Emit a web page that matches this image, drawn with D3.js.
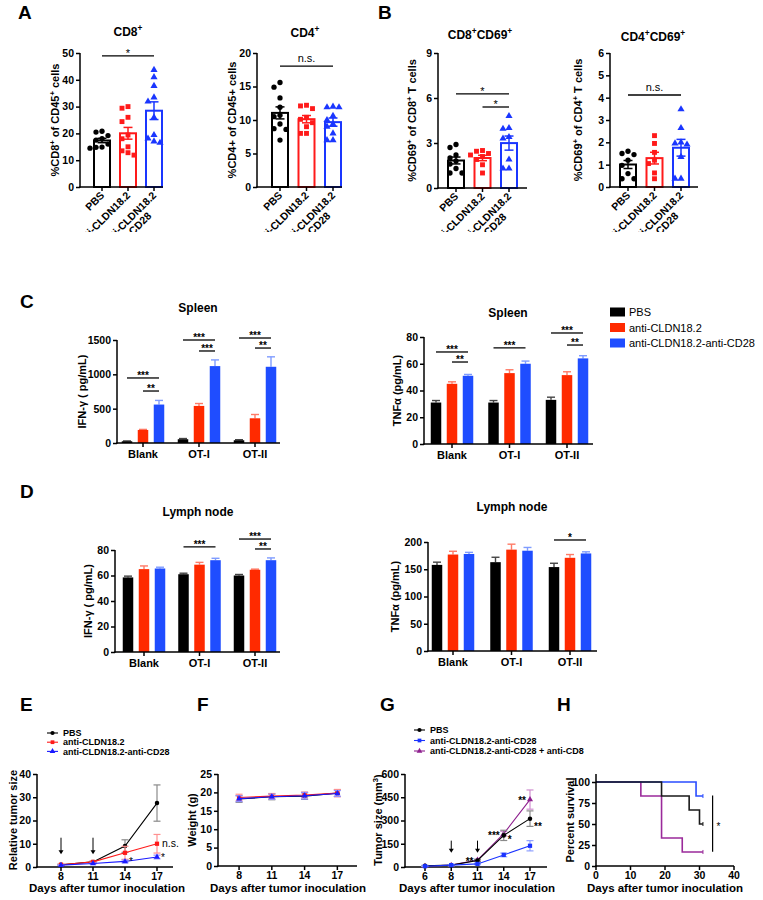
<!DOCTYPE html>
<html>
<head>
<meta charset="utf-8">
<script src="https://cdn.jsdelivr.net/npm/d3@7/dist/d3.min.js"></script>
<style>
  html,body{margin:0;padding:0;background:#fff;}
  svg{display:block;}
</style>
</head>
<body>
<svg id="fig" width="763" height="900"></svg>
<script>
/* ================= DATA ================= */
const groups = ["PBS", "anti-CLDN18.2", "anti-CLDN18.2-anti-CD28"];
const groupTickLabels = [["PBS"], ["anti-CLDN18.2"], ["anti-CLDN18.2", "-anti-CD28"]];

// Panel A / B individual animals (PBS, anti-CLDN18.2, anti-CLDN18.2-anti-CD28)
const cd8OfCd45 = [
  [20.5, 20.8, 19.2, 18.0, 17.5, 16.0, 14.8, 14.5, 14.9],
  [30.0, 29.4, 26.0, 24.4, 19.4, 18.0, 15.0, 12.8, 11.9, 13.5],
  [43.7, 41.0, 37.7, 33.4, 31.9, 26.0, 19.4, 18.1, 16.5, 17.0]
];
const cd4OfCd45 = [
  [15.6, 14.9, 13.3, 11.9, 10.7, 10.5, 9.4, 8.7, 7.0, 8.6],
  [12.2, 12.1, 11.7, 10.4, 10.1, 9.6, 9.0, 8.0, 8.0],
  [12.0, 11.9, 11.9, 10.6, 10.0, 9.4, 9.0, 8.0, 7.0, 7.0]
];
const cd69OfCd8 = [
  [2.9, 2.7, 2.2, 2.0, 1.8, 1.6, 1.3, 1.0, 1.0],
  [2.5, 2.45, 2.3, 2.2, 2.1, 1.9, 1.55, 1.0],
  [4.8, 4.0, 3.95, 3.4, 3.3, 1.9, 1.3, 1.3]
];
const cd69OfCd4 = [
  [1.6, 1.5, 1.45, 1.2, 0.97, 0.6, 0.37, 0.37],
  [2.3, 1.95, 1.55, 1.2, 1.05, 0.63, 0.37],
  [3.48, 2.64, 2.0, 1.95, 1.9, 1.35, 0.37, 0.37]
];
const sigCd8 = [{a: 0, b: 2, label: "*", y: 48.9}];
const sigCd4 = [{a: 0, b: 2, label: "n.s.", y: 18.05}];
const sigCd8Cd69 = [{a: 0, b: 2, label: "*", y: 6.27}, {a: 1, b: 2, label: "*", y: 5.4}];
const sigCd4Cd69 = [{a: 0, b: 2, label: "n.s.", y: 4.12}];

// Panel C / D : [category][PBS, anti-CLDN18.2, anti-CLDN18.2-anti-CD28]
const stimCats = ["Blank", "OT-I", "OT-II"];
const spleenIfnMean = [[25, 190, 560], [55, 540, 1120], [40, 360, 1110]];
const spleenIfnSem  = [[5, 8, 60], [10, 35, 90], [8, 55, 145]];
const spleenTnfMean = [[31, 45, 51], [31, 53, 60], [33, 51.5, 64]];
const spleenTnfSem  = [[1.5, 1.5, 1], [1.5, 2.5, 2], [2, 2.5, 2]];
const lnIfnMean = [[58.5, 65, 65.5], [61, 68.5, 72], [60, 64.5, 72]];
const lnIfnSem  = [[1, 2.5, 1], [0.8, 1.8, 1.5], [0.8, 0.5, 1.8]];
const lnTnfMean = [[158, 177, 178], [163, 186, 184], [154, 171, 179]];
const lnTnfSem  = [[5, 6, 3], [9, 10, 6], [7, 6, 3]];
const spleenIfnSig = [
  {cat: "Blank", a: 0, b: 2, label: "***", y: 947}, {cat: "Blank", a: 1, b: 2, label: "**", y: 757},
  {cat: "OT-I", a: 0, b: 2, label: "***", y: 1500}, {cat: "OT-I", a: 1, b: 2, label: "***", y: 1340},
  {cat: "OT-II", a: 0, b: 2, label: "***", y: 1529}, {cat: "OT-II", a: 1, b: 2, label: "**", y: 1383}
];
const spleenTnfSig = [
  {cat: "Blank", a: 0, b: 2, label: "***", y: 68.8}, {cat: "Blank", a: 1, b: 2, label: "**", y: 61.3},
  {cat: "OT-I", a: 0, b: 2, label: "***", y: 71.8},
  {cat: "OT-II", a: 0, b: 2, label: "***", y: 83}, {cat: "OT-II", a: 1, b: 2, label: "**", y: 74}
];
const lnIfnSig = [
  {cat: "OT-I", a: 0, b: 2, label: "***", y: 82.4},
  {cat: "OT-II", a: 0, b: 2, label: "***", y: 88.6}, {cat: "OT-II", a: 1, b: 2, label: "**", y: 80.8}
];
const lnTnfSig = [{cat: "OT-II", a: 0, b: 2, label: "*", y: 203.7}];

// Panel E : relative tumor size
const daysE = [8, 11, 14, 17];
const relPBS = [1.0, 2.2, 9.0, 27.5];   const relPBSsem = [0.2, 0.3, 2.7, 7.8];
const relCLDN = [1.0, 2.2, 6.1, 10.0];  const relCLDNsem = [0.2, 0.3, 2.8, 4.0];
const relCD28 = [0.8, 1.5, 2.4, 4.3];   const relCD28sem = [0.1, 0.2, 0.6, 0.8];
const treatDaysE = [8, 11];
const annotE = [{x: 17, v: 10.0, label: "n.s."}, {x: 14, v: 2.4, label: "*"}, {x: 17, v: 4.3, label: "*"}];

// Panel F : weight
const daysF = [8, 11, 14, 17];
const wPBS = [18.2, 18.8, 19.0, 19.8];  const wPBSsem = [0.9, 0.8, 0.9, 0.9];
const wCLDN = [18.6, 19.0, 19.3, 19.8]; const wCLDNsem = [0.9, 0.7, 0.8, 1.0];
const wCD28 = [18.3, 18.8, 19.1, 19.7]; const wCD28sem = [0.8, 0.7, 0.9, 0.8];

// Panel G : tumor volume
const daysG = ["6", "8", "11", "14", "17"];
const volPBS = [8, 12, 42, 204, 312];   const volPBSsem = [3, 3, 6, 33, 50];
const volCD28 = [5, 12, 20, 78, 137];   const volCD28sem = [2, 3, 5, 12, 33];
const volCD8 = [5, 12, 45, 215, 435];   const volCD8sem = [2, 3, 6, 15, 62];
const treatDaysG = ["8", "11"];
const annotG = [
  {x: "11", v: 45, label: "**", side: -1}, {x: "14", v: 215, label: "***", side: -1},
  {x: "14", v: 185, label: "*", side: 1}, {x: "17", v: 440, label: "**", side: -1},
  {x: "17", v: 270, label: "**", side: 1}
];
const legendG = ["PBS", "anti-CLDN18.2-anti-CD28", "anti-CLDN18.2-anti-CD28 + anti-CD8"];

// Panel H : survival (day, percent)
const survPBS = [[0, 100], [19, 83.3], [27, 66.7], [30, 50], [31, 50]];
const survCD28 = [[0, 100], [29, 83.3], [31, 83.3]];
const survCD8 = [[0, 100], [13, 83.3], [19, 33.3], [25, 16.7], [31, 16.7]];
const sigH = {day: 33.8, from: 84, to: 17, label: "*"};

/* ================= DRAWING ================= */
const FONT = "'Liberation Sans', Arial, Helvetica, sans-serif";
const svg = d3.select("#fig");
svg.append("rect").attr("width", 763).attr("height", 900).attr("fill", "#fff");

function txt(parent, x, y, str, opt = {}) {
  const size = opt.size || 11;
  const t = parent.append("text")
    .attr("x", x).attr("y", y)
    .attr("font-family", FONT).attr("font-size", size)
    .attr("font-weight", opt.weight || "bold")
    .attr("text-anchor", opt.anchor || "middle")
    .attr("fill", opt.fill || "#000");
  if (opt.rotate) t.attr("transform", `rotate(${opt.rotate},${x},${y})`);
  let sup = false;
  str.split(/(\^\{[^}]*\})/).filter(p => p.length).forEach(p => {
    const m = p.match(/^\^\{([^}]*)\}$/);
    if (m) { t.append("tspan").attr("dy", -size * 0.38).attr("font-size", size * 0.7).text(m[1]); sup = true; }
    else { const s = t.append("tspan").text(p); if (sup) s.attr("dy", size * 0.38); sup = false; }
  });
  return t;
}

function line(g, x1, y1, x2, y2, color = "#000", w = 1.5) {
  return g.append("line").attr("x1", x1).attr("y1", y1).attr("x2", x2).attr("y2", y2)
    .attr("stroke", color).attr("stroke-width", w);
}

function yAxis(g, y, axisX, ticks, yTopLine, fmt) {
  const ax = g.append("g").attr("transform", `translate(${axisX},0)`)
    .call(d3.axisLeft(y).tickValues(ticks).tickSize(4).tickSizeOuter(0).tickPadding(2).tickFormat(fmt || d3.format("d")));
  ax.select(".domain").remove();
  ax.attr("font-family", FONT);
  ax.selectAll(".tick line").attr("stroke", "#000").attr("stroke-width", 1.5);
  ax.selectAll(".tick text").attr("fill", "#000").attr("font-weight", "bold").attr("font-size", 10.5).attr("font-family", FONT);
  const r = y.range();
  line(g, axisX, r[0] + 0.75, axisX, yTopLine !== undefined ? yTopLine : r[1]);
}

function xAxisLine(g, x0, x1, yb) { line(g, x0 - 0.75, yb, x1, yb); }

// Panel letters
[["A", 18, 19], ["B", 378, 19], ["C", 20, 308], ["D", 20, 498], ["E", 20, 711], ["F", 197, 711], ["G", 380, 711], ["H", 557, 711]]
  .forEach(([l, x, y]) => txt(svg, x, y, l, {size: 19, anchor: "start"}));

/* ---------- A / B : scatter bar ---------- */
const grpColors = ["#000000", "#ff1a1a", "#1a36ff"];
const symTypes = [d3.symbolCircle, d3.symbolSquare, d3.symbolTriangle];
const symSizes = [22, 24, 22];

svg.append("clipPath").attr("id", "topclip").append("rect").attr("x", 0).attr("y", 0).attr("width", 763).attr("height", 232);

const scatterPanels = [
  {data: cd8OfCd45, sig: sigCd8, max: 50, ticks: [0, 10, 20, 30, 40, 50], title: "CD8^{+}", ylabel: "%CD8^{+} of CD45^{+} cells",
   axisX: 80, axisEnd: 163, yTop: 53, yBot: 187, barRange: [102, 154], titleX: 128, titleY: 36, ylabelX: 59},
  {data: cd4OfCd45, sig: sigCd4, max: 20, ticks: [0, 5, 10, 15, 20], title: "CD4^{+}", ylabel: "%CD4+ of CD45+ cells",
   axisX: 257, axisEnd: 342, yTop: 53, yBot: 187, barRange: [280, 333], titleX: 305, titleY: 37, ylabelX: 236},
  {data: cd69OfCd8, sig: sigCd8Cd69, max: 9, ticks: [0, 3, 6, 9], title: "CD8^{+}CD69^{+}", ylabel: "%CD69^{+} of CD8^{+} T cells",
   axisX: 438, axisEnd: 527, yTop: 53, yBot: 188, barRange: [456, 509], titleX: 480, titleY: 39, ylabelX: 416},
  {data: cd69OfCd4, sig: sigCd4Cd69, max: 6, ticks: [0, 1, 2, 3, 4, 5, 6], title: "CD4^{+}CD69^{+}", ylabel: "%CD69^{+} of CD4^{+} T cells",
   axisX: 610, axisEnd: 698, yTop: 53, yBot: 187, barRange: [628, 681], titleX: 653, titleY: 41, ylabelX: 582}
];

scatterPanels.forEach(o => {
  const g = svg.append("g");
  const y = d3.scaleLinear().domain([0, o.max]).range([o.yBot, o.yTop]);
  const x = d3.scalePoint().domain(groups).range(o.barRange);
  const bw = 16;
  o.data.forEach((pts, i) => {
    const cx = x(groups[i]);
    const mean = d3.mean(pts);
    const sem = d3.deviation(pts) / Math.sqrt(pts.length);
    g.append("rect").attr("x", cx - bw / 2).attr("y", y(mean)).attr("width", bw).attr("height", y(0) - y(mean))
      .attr("fill", "#fff").attr("stroke", grpColors[i]).attr("stroke-width", 2);
    // beeswarm-style placement of points
    const placed = [];
    const sym = d3.symbol().type(symTypes[i]).size(symSizes[i]);
    pts.slice().sort((a, b) => b - a).forEach(v => {
      const py = y(v);
      let off = 0;
      for (const c of [0, -6, 6, -3, 3, -9, 9, -12, 12]) {
        if (placed.every(p => Math.hypot(p[0] - c, p[1] - py) >= 5.5)) { off = c; break; }
      }
      placed.push([off, py]);
      g.append("path").attr("d", sym).attr("transform", `translate(${cx + off},${py})`).attr("fill", grpColors[i]);
    });
    line(g, cx, y(mean - sem), cx, y(mean + sem), grpColors[i], 1.5);
    line(g, cx - 4.5, y(mean + sem), cx + 4.5, y(mean + sem), grpColors[i], 1.5);
    line(g, cx - 4.5, y(mean - sem), cx + 4.5, y(mean - sem), grpColors[i], 1.5);
  });
  yAxis(g, y, o.axisX, o.ticks);
  xAxisLine(g, o.axisX, o.axisEnd, o.yBot);
  const lg = g.append("g").attr("clip-path", "url(#topclip)");
  groups.forEach((gr, i) => {
    const cx = x(gr);
    line(g, cx, o.yBot, cx, o.yBot + 4);
    const tx = cx + 3, ty = o.yBot + 9;
    const t = lg.append("text").attr("transform", `translate(${tx},${ty}) rotate(-45)`)
      .attr("font-family", FONT).attr("font-size", 10.5).attr("font-weight", "bold").attr("fill", "#000")
      .attr("text-anchor", "end");
    const lines = groupTickLabels[i];
    if (lines.length === 1) {
      t.text(lines[0]);
    } else {
      t.append("tspan").attr("x", 0).attr("dy", 0).text(lines[0]);
      t.append("tspan").attr("x", -18).attr("dy", "1.05em").text(lines[1]);
    }
  });
  txt(g, o.titleX, o.titleY, o.title, {size: 12});
  txt(g, o.ylabelX, (o.yTop + o.yBot) / 2, o.ylabel, {size: 11, rotate: -90});
  o.sig.forEach(s => {
    const x1 = x(groups[s.a]), x2 = x(groups[s.b]), yy = y(s.y);
    line(g, x1, yy, x2, yy, "#000", 1.3);
    if (s.label === "n.s.") txt(g, (x1 + x2) / 2, yy - 4, s.label, {size: 11, weight: "normal"});
    else txt(g, (x1 + x2) / 2, yy + 1, s.label, {size: 11, weight: "normal"});
  });
});

/* ---------- C / D : grouped bars ---------- */
const barColors = ["#000000", "#ff2a00", "#1f4dff"];
const errColors = ["#444444", "#ff7a66", "#7f9cff"];

const groupedPanels = [
  {mean: spleenIfnMean, sem: spleenIfnSem, sig: spleenIfnSig, max: 1500, ticks: [0, 500, 1000, 1500],
   axisX: 117, axisEnd: 280, yTop: 340, yBot: 443, range: [143, 255], title: "Spleen", titleX: 198, titleY: 312,
   ylabel: "IFN-γ ( pg/mL)", ylabelX: 86},
  {mean: spleenTnfMean, sem: spleenTnfSem, sig: spleenTnfSig, max: 80, ticks: [0, 20, 40, 60, 80],
   axisX: 424, axisEnd: 593, yTop: 337, yBot: 444, range: [452, 567], title: "Spleen", titleX: 508, titleY: 317,
   ylabel: "TNFα (pg/mL)", ylabelX: 401},
  {mean: lnIfnMean, sem: lnIfnSem, sig: lnIfnSig, max: 80, ticks: [0, 20, 40, 60, 80],
   axisX: 115, axisEnd: 280, yTop: 550, yBot: 652, range: [144, 255], title: "Lymph node", titleX: 198, titleY: 516,
   ylabel: "IFN-γ ( pg/mL)", ylabelX: 92},
  {mean: lnTnfMean, sem: lnTnfSem, sig: lnTnfSig, max: 200, ticks: [0, 50, 100, 150, 200],
   axisX: 428, axisEnd: 597, yTop: 542, yBot: 651, range: [453, 570], title: "Lymph node", titleX: 512, titleY: 511,
   ylabel: "TNFα (pg/mL)", ylabelX: 399}
];

groupedPanels.forEach(o => {
  const g = svg.append("g");
  const y = d3.scaleLinear().domain([0, o.max]).range([o.yBot, o.yTop]);
  const x = d3.scalePoint().domain(stimCats).range(o.range);
  const sub = d3.scalePoint().domain([0, 1, 2]).range([-16, 16]);
  const bw = 10.5;
  stimCats.forEach((c, ci) => {
    [0, 1, 2].forEach(k => {
      const v = o.mean[ci][k], e = o.sem[ci][k], cx = x(c) + sub(k);
      line(g, cx, y(v), cx, y(v + e), errColors[k], 1.4);
      line(g, cx - 4, y(v + e), cx + 4, y(v + e), errColors[k], 1.4);
      g.append("rect").attr("x", cx - bw / 2).attr("y", y(v)).attr("width", bw).attr("height", y(0) - y(v))
        .attr("fill", barColors[k]);
    });
  });
  yAxis(g, y, o.axisX, o.ticks);
  xAxisLine(g, o.axisX, o.axisEnd, o.yBot);
  stimCats.forEach(c => {
    line(g, x(c), o.yBot, x(c), o.yBot + 4);
    txt(g, x(c), o.yBot + 15, c, {size: 11});
  });
  txt(g, o.titleX, o.titleY, o.title, {size: 12});
  txt(g, o.ylabelX, (o.yTop + o.yBot) / 2, o.ylabel, {size: 11, rotate: -90});
  o.sig.forEach(s => {
    const x1 = x(s.cat) + sub(s.a), x2 = x(s.cat) + sub(s.b), yy = y(s.y);
    line(g, x1, yy, x2, yy, "#000", 1.3);
    txt(g, (x1 + x2) / 2, yy + 1, s.label, {size: 10, weight: "bold"});
  });
});

// legend for C
groups.forEach((gr, i) => {
  const cy = 312 + i * 15.5;
  svg.append("rect").attr("x", 610).attr("y", cy - 4.5).attr("width", 15).attr("height", 9).attr("fill", barColors[i]);
  txt(svg, 629, cy + 4, gr, {size: 11, weight: "normal", anchor: "start"});
});

/* ---------- line-chart helpers ---------- */
function drawSeries(g, x, y, xs, vals, sems, color, errColor, symType, symSize) {
  xs.forEach((d, i) => {
    const cx = x(d);
    line(g, cx, y(vals[i] - sems[i]), cx, y(vals[i] + sems[i]), errColor, 1.2);
    line(g, cx - 3.5, y(vals[i] + sems[i]), cx + 3.5, y(vals[i] + sems[i]), errColor, 1.2);
    line(g, cx - 3.5, y(vals[i] - sems[i]), cx + 3.5, y(vals[i] - sems[i]), errColor, 1.2);
  });
  g.append("path").datum(xs.map((d, i) => [x(d), y(vals[i])]))
    .attr("d", d3.line()).attr("fill", "none").attr("stroke", color).attr("stroke-width", 1.1);
  const sym = d3.symbol().type(symType).size(symSize);
  xs.forEach((d, i) => g.append("path").attr("d", sym).attr("transform", `translate(${x(d)},${y(vals[i])})`).attr("fill", color));
}

function xTicks(g, x, vals, yb, fmt) {
  vals.forEach(v => {
    line(g, x(v), yb, x(v), yb + 4);
    txt(g, x(v), yb + 13, fmt ? fmt(v) : String(v), {size: 10.5});
  });
}

function arrow(g, cx, y1, y2) {
  line(g, cx, y1, cx, y2 - 3, "#000", 1);
  g.append("path").attr("d", `M${cx - 2.5},${y2 - 4}L${cx + 2.5},${y2 - 4}L${cx},${y2}Z`).attr("fill", "#000");
}

function legendRows(g, x0, y0, dy, labels, colors, syms) {
  labels.forEach((lab, i) => {
    const cy = y0 + i * dy;
    line(g, x0, cy, x0 + 11, cy, colors[i], 1.1);
    g.append("path").attr("d", d3.symbol().type(syms[i]).size(14)).attr("transform", `translate(${x0 + 5.5},${cy})`).attr("fill", colors[i]);
    txt(g, x0 + 16, cy + 3.2, lab, {size: 9, anchor: "start"});
  });
}

const xLabel = "Days after tumor inoculation";

/* ---------- E ---------- */
{
  const g = svg.append("g");
  const x = d3.scaleLinear().domain([5.75, 18.5]).range([37, 173]);
  const y = d3.scaleLinear().domain([0, 40]).range([867, 774]);
  yAxis(g, y, 37, [0, 10, 20, 30, 40]);
  xAxisLine(g, 37, 173, 867);
  xTicks(g, x, daysE, 867);
  drawSeries(g, x, y, daysE, relPBS, relPBSsem, "#000", "#8a8a8a", d3.symbolCircle, 16);
  drawSeries(g, x, y, daysE, relCLDN, relCLDNsem, "#ff1a1a", "#ff9090", d3.symbolSquare, 18);
  drawSeries(g, x, y, daysE, relCD28, relCD28sem, "#1a1aff", "#9090ff", d3.symbolTriangle, 16);
  treatDaysE.forEach(d => arrow(g, x(d), y(12.6), y(5.5)));
  annotE.forEach(a => {
    if (a.label === "n.s.") txt(g, x(a.x) + 5, y(a.v) + 3.5, a.label, {size: 10.5, weight: "normal", anchor: "start"});
    else txt(g, x(a.x) + 4, y(a.v) + 4, a.label, {size: 10, weight: "normal", anchor: "start"});
  });
  legendRows(g, 47, 733, 9.2, groups, ["#000", "#ff1a1a", "#1a1aff"], [d3.symbolCircle, d3.symbolSquare, d3.symbolTriangle]);
  txt(g, 17, 820, "Relative tumor size", {size: 11, rotate: -90});
  txt(g, 107, 892, xLabel, {size: 11.5});
}

/* ---------- F ---------- */
{
  const g = svg.append("g");
  const x = d3.scaleLinear().domain([6.07, 18.8]).range([218, 357]);
  const y = d3.scaleLinear().domain([0, 25]).range([866, 774]);
  yAxis(g, y, 218, [0, 5, 10, 15, 20, 25]);
  xAxisLine(g, 218, 357, 866);
  xTicks(g, x, daysF, 866);
  drawSeries(g, x, y, daysF, wPBS, wPBSsem, "#000", "#8a8a8a", d3.symbolCircle, 16);
  drawSeries(g, x, y, daysF, wCLDN, wCLDNsem, "#ff1a1a", "#ff9090", d3.symbolSquare, 18);
  drawSeries(g, x, y, daysF, wCD28, wCD28sem, "#1a1aff", "#9090ff", d3.symbolTriangle, 16);
  txt(g, 196, 820, "Weight (g)", {size: 11, rotate: -90});
  txt(g, 288, 892, xLabel, {size: 11.5});
}

/* ---------- G ---------- */
{
  const g = svg.append("g");
  const x = d3.scalePoint().domain(daysG).range([425, 530]);
  const y = d3.scaleLinear().domain([0, 600]).range([867, 774]);
  yAxis(g, y, 405, [0, 150, 300, 450, 600]);
  xAxisLine(g, 405, 547, 867);
  xTicks(g, x, daysG, 867);
  drawSeries(g, x, y, daysG, volCD8, volCD8sem, "#8e1f8e", "#d08fd0", d3.symbolTriangle, 16);
  drawSeries(g, x, y, daysG, volPBS, volPBSsem, "#000", "#8a8a8a", d3.symbolCircle, 16);
  drawSeries(g, x, y, daysG, volCD28, volCD28sem, "#1a33ff", "#8fa0ff", d3.symbolSquare, 18);
  treatDaysG.forEach(d => arrow(g, x(d), y(170), y(92)));
  annotG.forEach(a => {
    const anchor = a.side < 0 ? "end" : "start";
    txt(g, x(a.x) + a.side * 4, y(a.v) + 5, a.label, {size: 10, weight: "bold", anchor});
  });
  legendRows(g, 414, 730, 10.5, legendG, ["#000", "#1a33ff", "#8e1f8e"], [d3.symbolCircle, d3.symbolSquare, d3.symbolTriangle]);
  txt(g, 382, 820, "Tumor size (mm^{3})", {size: 11, rotate: -90});
  txt(g, 477, 892, xLabel, {size: 11.5});
}

/* ---------- H ---------- */
{
  const g = svg.append("g");
  const x = d3.scaleLinear().domain([0, 40]).range([596, 734]);
  const y = d3.scaleLinear().domain([0, 100]).range([866, 782]);
  const step = d3.line().x(d => x(d[0])).y(d => y(d[1])).curve(d3.curveStepAfter);
  [[survCD8, "#9a2a9a"], [survCD28, "#2a4cff"], [survPBS, "#1a1a1a"]].forEach(([s, c]) => {
    g.append("path").datum(s).attr("d", step).attr("fill", "none").attr("stroke", c).attr("stroke-width", 1.6);
    const last = s[s.length - 1];
    line(g, x(last[0]), y(last[1]) - 2, x(last[0]), y(last[1]) + 2, c, 1);
  });
  yAxis(g, y, 596, [0, 25, 50, 75, 100], 774);
  xAxisLine(g, 596, 734, 866);
  xTicks(g, x, [0, 10, 20, 30, 40], 866);
  line(g, x(sigH.day), y(sigH.from), x(sigH.day), y(sigH.to), "#000", 1.2);
  txt(g, x(sigH.day) + 4, y((sigH.from + sigH.to) / 2) + 6, sigH.label, {size: 10, weight: "normal", anchor: "start"});
  txt(g, 574, 820, "Percent survival", {size: 11, rotate: -90});
  txt(g, 665, 892, xLabel, {size: 11.5});
}
</script>
</body>
</html>
